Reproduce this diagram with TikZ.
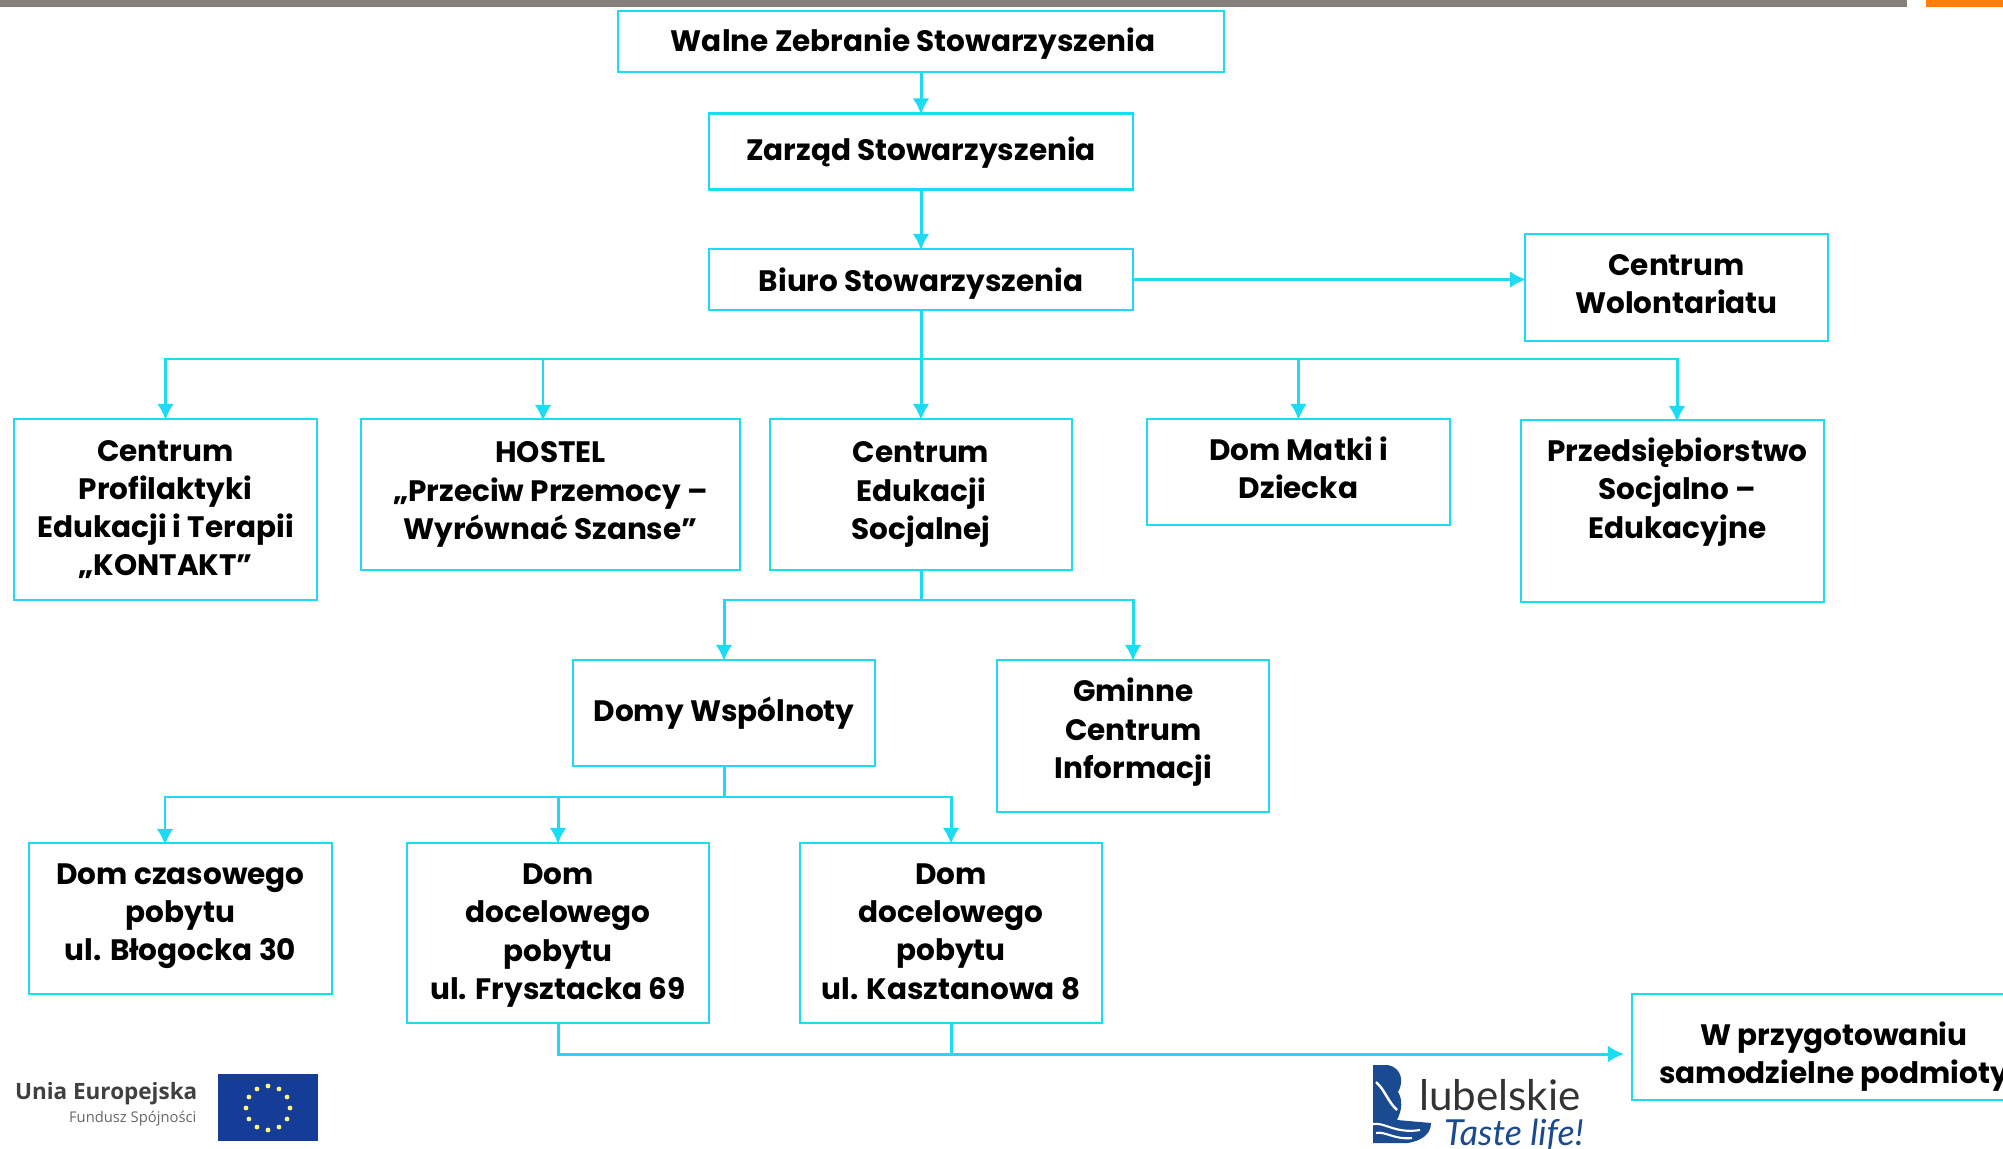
\documentclass[tikz,border=0pt]{standalone}
\usepackage{fontspec}
\usetikzlibrary{arrows.meta}
\setmainfont{Poppins}
\newfontfamily\euname{Open Sans}
\newfontfamily\lubname{Lato}
\definecolor{linecyan}{HTML}{1BDCF2}
\definecolor{bargray}{HTML}{85817A}
\definecolor{barorange}{HTML}{FF7F0A}
\definecolor{eublue}{HTML}{153C96}
\definecolor{lubblue}{HTML}{1A4A90}
\tikzstyle{caption}=[align=center, inner sep=0pt, font=\fontsize{8.4}{10.85}\selectfont\bfseries]
\tikzstyle{unit}=[caption, draw=linecyan, line width=0.6pt]
\tikzstyle{arrow}=[linecyan, line width=0.85pt, -{Latex[width=4.8pt, length=4.6pt]}, shorten >=-0.6pt]
\tikzstyle{branch}=[linecyan, line width=0.85pt]

\begin{document}
\begin{tikzpicture}
      \path[use as bounding box, clip] (0, 0) rectangle (20.03, -11.49);

      \fill[bargray] (0, 0) rectangle (19.07, -0.07);
      \fill[barorange] (19.26, 0) rectangle (20.03, -0.07);

      \node[unit, minimum width=6.06cm, minimum height=0.61cm] (walne) at (9.21, -0.415) {};
      \node[caption] (walnetext) at (9.13, -0.44) {Walne Zebranie Stowarzyszenia};
      \node[unit, minimum width=4.24cm, minimum height=0.76cm] (zarzad) at (9.21, -1.515) {};
      \node[caption] (zarzadtext) at (9.21, -1.53) {Zarząd Stowarzyszenia};
      \node[unit, minimum width=4.24cm, minimum height=0.61cm] (biuro) at (9.21, -2.795) {};
      \node[caption] (biurotext) at (9.21, -2.835) {Biuro Stowarzyszenia};
      \node[unit, minimum width=3.03cm, minimum height=1.07cm] (wolontariat) at (16.765, -2.875) {};
      \node[caption] (wolontariattext) at (16.765, -2.843) {Centrum\\Wolontariatu};

      \node[unit, minimum width=3.03cm, minimum height=1.81cm] (kontakt) at (1.655, -5.095) {Centrum\\Profilaktyki\\Edukacji i Terapii\\„KONTAKT”};
      \node[unit, minimum width=3.79cm, minimum height=1.51cm] (hostel) at (5.505, -4.945) {HOSTEL\\„Przeciw Przemocy –\\Wyrównać Szanse”};
      \node[unit, minimum width=3.02cm, minimum height=1.51cm] (edukacja) at (9.21, -4.945) {Centrum\\Edukacji\\Socjalnej};
      \node[unit, minimum width=3.03cm, minimum height=1.06cm] (matka) at (12.985, -4.72) {};
      \node[caption] (matkatext) at (12.985, -4.682) {Dom Matki i\\Dziecka};
      \node[unit, minimum width=3.03cm, minimum height=1.82cm] (przedsiebiorstwo) at (16.725, -5.11) {};
      \node[caption] (przedsiebiorstwotext) at (16.775, -4.92) {Przedsiębiorstwo\\Socjalno –\\Edukacyjne};

      \node[unit, minimum width=3.02cm, minimum height=1.06cm] (domy) at (7.24, -7.13) {Domy Wspólnoty};
      \node[unit, minimum width=2.72cm, minimum height=1.52cm] (gminne) at (11.33, -7.36) {};
      \node[caption] (gminnetext) at (11.333, -7.322) {Gminne\\Centrum\\Informacji};

      \node[unit, minimum width=3.03cm, minimum height=1.51cm] (czasowy) at (1.805, -9.185) {};
      \node[caption] (czasowytext) at (1.805, -9.16) {Dom czasowego\\pobytu\\ul. Błogocka 30};
      \node[unit, minimum width=3.02cm, minimum height=1.80cm] (frysztacka) at (5.58, -9.33) {};
      \node[caption] (frysztackatext) at (5.58, -9.356) {Dom\\docelowego\\pobytu\\ul. Frysztacka 69};
      \node[unit, minimum width=3.02cm, minimum height=1.80cm] (kasztanowa) at (9.51, -9.33) {};
      \node[caption] (kasztanowatext) at (9.51, -9.317) {Dom\\docelowego\\pobytu\\ul. Kasztanowa 8};
      \node[unit, minimum width=3.96cm, minimum height=1.06cm] (podmioty) at (18.30, -10.47) {};
      \node[caption] (podmiotytext) at (18.34, -10.57) {W przygotowaniu\\samodzielne podmioty};

      \coordinate (bus1) at (9.21, -3.59);
      \coordinate (bus2) at (9.21, -6.00);
      \coordinate (bus3) at (7.24, -7.97);
      \coordinate (hostelin) at (5.43, -4.19);
      \coordinate (przedin) at (16.77, -4.20);
      \coordinate (czasin) at (1.65, -8.43);
      \coordinate (podmiotyin) at (16.22, -10.54);

      \draw[arrow] (walne) to (zarzad);
      \draw[arrow] (zarzad) to (biuro);
      \draw[arrow] (biuro) to (wolontariat.west |- biuro);
      \draw[arrow] (biuro) to (edukacja);
      \draw[arrow] (bus1) -| (kontakt);
      \draw[arrow] (bus1) -| (hostelin);
      \draw[arrow] (bus1) -| (matka);
      \draw[arrow] (bus1) -| (przedin);
      \draw[branch] (edukacja) to (bus2);
      \draw[arrow] (bus2) -| (domy);
      \draw[arrow] (bus2) -| (gminne);
      \draw[branch] (domy) to (bus3);
      \draw[arrow] (bus3) -| (czasin);
      \draw[arrow] (bus3) -| (frysztacka);
      \draw[arrow] (bus3) -| (kasztanowa);
      \draw[arrow] (frysztacka) |- (podmiotyin);
      \draw[branch] (kasztanowa) to (kasztanowa |- podmiotyin);

      % logos
      \node[anchor=east, inner sep=0pt, text=black!75, font=\euname\fontsize{6.4}{8}\selectfont\bfseries] (unia) at (1.98, -10.94) {Unia Europejska};
      \node[anchor=east, inner sep=0pt, text=black!60, font=\euname\fontsize{4.2}{5}\selectfont] (fundusz) at (1.97, -11.19) {Fundusz Spójności};
      \fill[eublue] (2.18, -10.74) rectangle (3.18, -11.41);
      \foreach \a in {0, 30, ..., 330}
        \fill[yellow!50!white] (2.68, -11.08) ++(\a:0.22) circle (0.024);

      \fill[lubblue] (13.73, -10.65) -- (13.88, -10.65) .. controls (14.02, -10.68) and (14.04, -10.82) .. (13.98, -10.92) .. controls (14.03, -11.00) and (14.02, -11.10) .. (13.97, -11.20) -- (14.31, -11.23) .. controls (14.31, -11.35) and (14.20, -11.41) .. (14.08, -11.43) -- (13.73, -11.43) -- cycle;
      \draw[white, line width=0.7pt] (13.76, -10.82) .. controls (13.85, -10.90) and (13.88, -11.02) .. (13.97, -11.10);
      \draw[white, line width=0.6pt] (13.73, -11.24) .. controls (13.85, -11.22) and (13.95, -11.34) .. (14.20, -11.30);
      \draw[white, line width=0.6pt] (13.76, -11.33) .. controls (13.85, -11.31) and (13.95, -11.40) .. (14.12, -11.38);
      \node[anchor=center, inner sep=0pt, text=black!80, font=\lubname\fontsize{12}{14}\selectfont] (lubelskie) at (15.00, -10.955) {lubelskie};
      \node[anchor=center, inner sep=0pt, text=lubblue, font=\lubname\itshape\fontsize{10.2}{12}\selectfont] (taste) at (15.14, -11.35) {Taste life!};
    \end{tikzpicture}
\end{document}
